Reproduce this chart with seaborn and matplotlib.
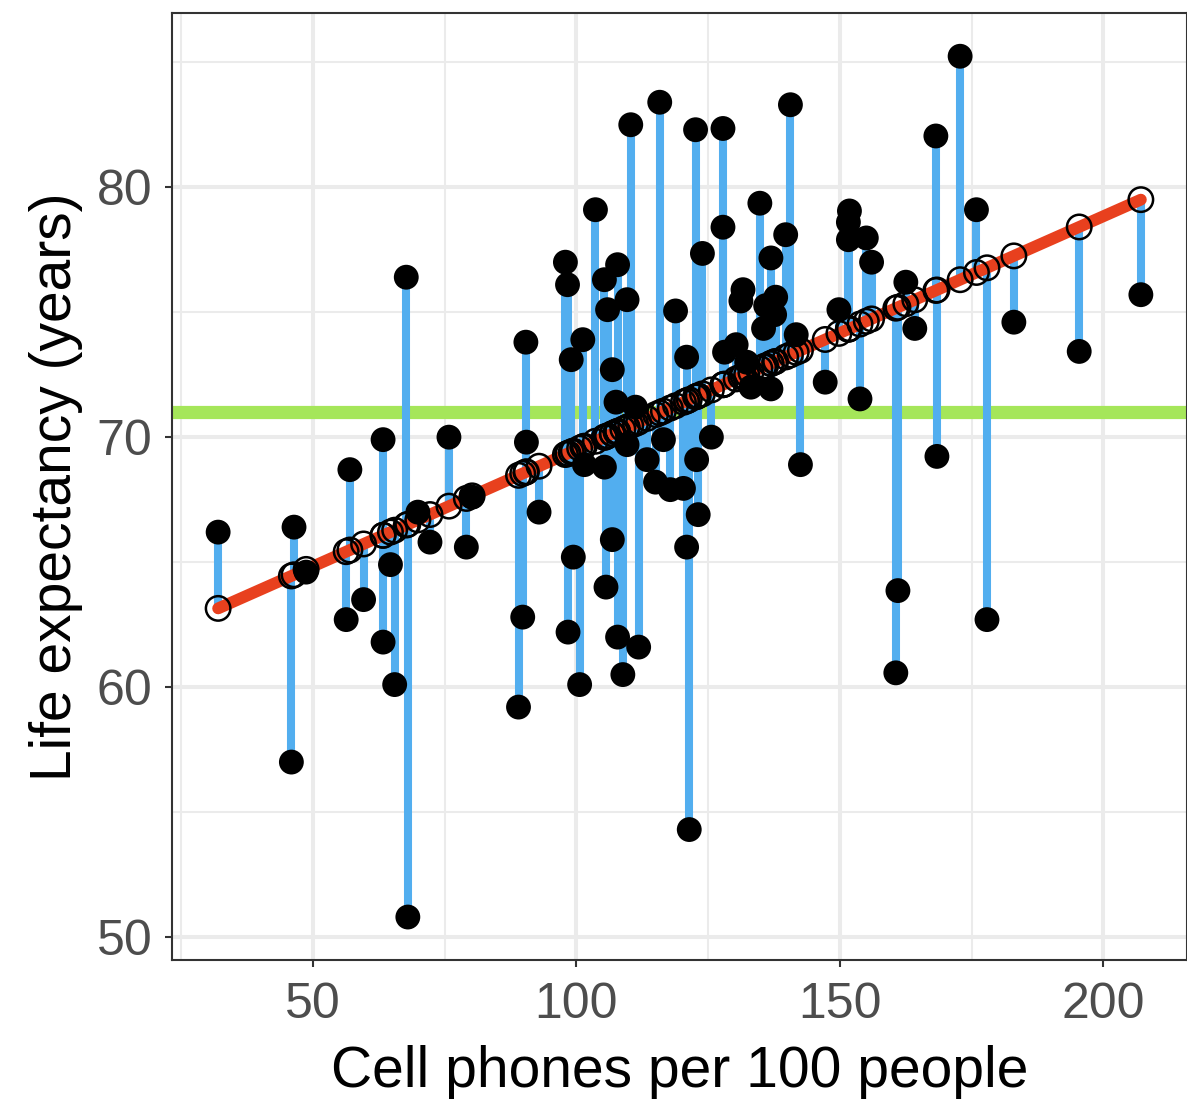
import numpy as np
import pandas as pd
import matplotlib
matplotlib.use("Agg")
import matplotlib.pyplot as plt
import seaborn as sns

# ---- data ----
cell_phones = [32.0, 45.9, 46.4, 48.7, 56.3, 57.0, 59.6, 63.3, 63.3, 64.7,
               65.5, 67.7, 68.0, 69.9, 72.2, 75.8, 79.1, 80.2, 89.0, 89.8,
               90.4, 90.5, 92.9, 97.9, 98.3, 98.4, 99.0, 99.4, 100.6, 101.2,
               101.5, 103.6, 105.3, 105.3, 105.6, 105.9, 106.8, 106.8, 107.5, 107.8,
               107.8, 108.8, 109.6, 109.6, 110.3, 111.2, 111.8, 113.4, 115.0, 115.8,
               116.5, 117.8, 118.8, 120.3, 120.9, 120.9, 121.4, 122.6, 122.8, 123.1,
               123.9, 125.6, 127.8, 127.8, 128.1, 130.3, 131.2, 131.6, 132.3, 133.1,
               134.8, 135.5, 135.9, 136.9, 136.9, 137.6, 137.8, 139.7, 140.6, 141.7,
               142.5, 147.2, 149.8, 151.6, 151.6, 151.8, 153.8, 155.0, 156.0, 160.6,
               161.0, 162.5, 164.2, 168.2, 168.4, 172.8, 175.9, 177.9, 183.0, 195.4,
               207.1]
life_exp = [66.2, 57.0, 66.4, 64.6, 62.7, 68.7, 63.5, 69.9, 61.8, 64.9,
            60.1, 76.4, 50.8, 67.0, 65.8, 70.0, 65.6, 67.6, 59.2, 62.8,
            73.8, 69.8, 67.0, 77.0, 76.1, 62.2, 73.1, 65.2, 60.1, 73.9,
            68.9, 79.1, 76.3, 68.8, 64.0, 75.1, 72.7, 65.9, 71.4, 76.9,
            62.0, 60.5, 75.5, 69.7, 82.5, 71.2, 61.6, 69.1, 68.2, 83.4,
            69.9, 67.9, 75.05, 67.95, 73.2, 65.6, 54.3, 82.3, 69.1, 66.9,
            77.35, 70.0, 82.35, 78.4, 73.4, 73.7, 75.45, 75.9, 73.0, 72.0,
            79.36, 74.35, 75.26, 77.17, 71.93, 74.9, 75.6, 78.1, 83.3, 74.1,
            68.9, 72.2, 75.1, 77.9, 78.6, 79.05, 71.53, 77.97, 77.0, 60.57,
            63.86, 76.2, 74.35, 82.05, 69.23, 85.24, 79.1, 62.7, 74.6, 73.43,
            75.7]

fit_intercept = 60.16   # regression line
fit_slope = 0.0934
mean_life = 71.0        # horizontal reference line

x_label = "Cell phones per 100 people"
y_label = "Life expectancy (years)"
x_ticks = [50, 100, 150, 200]
y_ticks = [50, 60, 70, 80]

df = pd.DataFrame({"cell": cell_phones, "life": life_exp})
df["fitted"] = fit_intercept + fit_slope * df["cell"]

# ---- plotting ----
sns.set_theme(style="white")
plt.rcParams["font.family"] = ["Liberation Sans", "DejaVu Sans"]

fig = plt.figure(figsize=(11.87, 11.01), dpi=100)
ax = fig.add_axes([0.1449, 0.128, 0.8551, 0.860])

xmin, xmax = df["cell"].min(), df["cell"].max()
ymin, ymax = df["life"].min(), df["life"].max()
xr, yr = xmax - xmin, ymax - ymin
ax.set_xlim(xmin - 0.05 * xr, xmax + 0.05 * xr)
ax.set_ylim(ymin - 0.05 * yr, ymax + 0.05 * yr)

grid_col = "#EBEBEB"
ax.set_axisbelow(True)
ax.set_xticks(x_ticks)
ax.set_yticks(y_ticks)
ax.set_xticks([25, 75, 125, 175], minor=True)
ax.set_yticks([55, 65, 75, 85], minor=True)
ax.grid(which="major", color=grid_col, linewidth=2.9)
ax.grid(which="minor", color=grid_col, linewidth=1.45)

ax.axhline(mean_life, color="#A5E65A", linewidth=9.5, zorder=1.5)
ax.vlines(df["cell"], df["fitted"], df["life"], color="#52AEEF",
          linewidth=5.8, zorder=2)

line_df = pd.DataFrame({"cell": [xmin, xmax]})
line_df["fitted"] = fit_intercept + fit_slope * line_df["cell"]
sns.lineplot(data=line_df, x="cell", y="fitted", color="#E8401E",
             linewidth=8.5, ax=ax, zorder=3)

sns.scatterplot(data=df, x="cell", y="fitted", s=310, facecolor="none",
                edgecolor="black", linewidth=1.8, ax=ax, zorder=4)
sns.scatterplot(data=df, x="cell", y="life", s=320, color="black",
                edgecolor="none", ax=ax, zorder=5)

for sp in ax.spines.values():
    sp.set_color("#333333")
    sp.set_linewidth(1.5)

ax.tick_params(axis="both", which="major", labelsize=36, colors="#333333",
               labelcolor="#4D4D4D", length=5, width=1.5, bottom=True, left=True)
ax.tick_params(axis="both", which="minor", length=0)
ax.tick_params(axis="x", pad=11)
ax.tick_params(axis="y", pad=9)

ax.set_xlabel(x_label, fontsize=41, color="black", labelpad=12)
ax.set_ylabel(y_label, fontsize=41, color="black", labelpad=10)

fig.savefig("out.png", dpi=100)
